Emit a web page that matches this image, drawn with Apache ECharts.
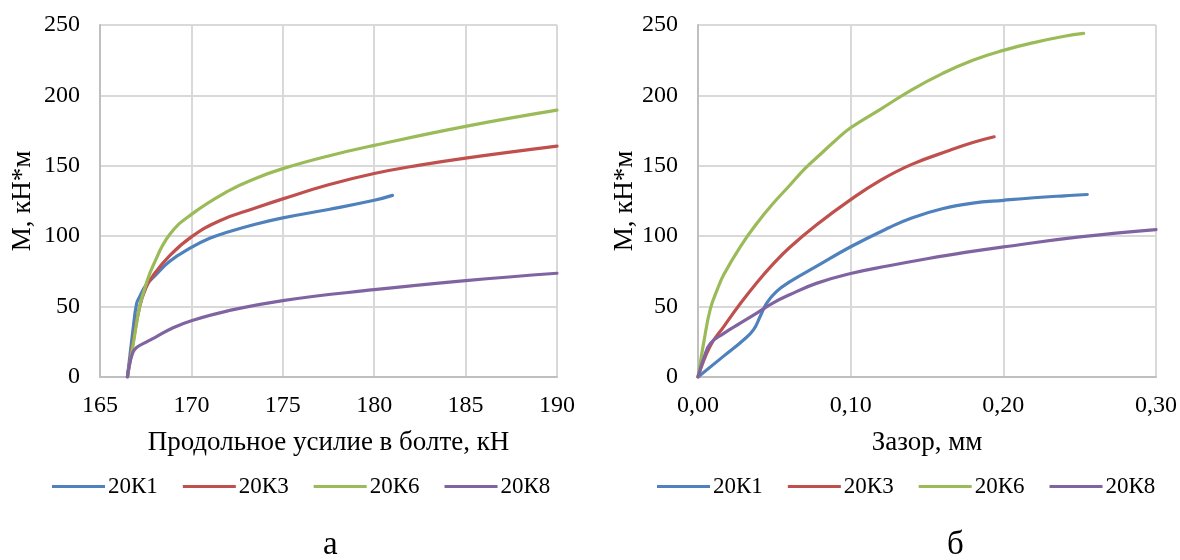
<!DOCTYPE html>
<html>
<head>
<meta charset="utf-8">
<script src="https://cdn.jsdelivr.net/npm/echarts@6/dist/echarts.min.js"></script>
<style>html,body{margin:0;padding:0;background:#fff;}#c{width:1180px;height:560px;}</style>
</head>
<body>
<div id="c"></div>
<script>
// Series names
const seriesNames = ['20К1', '20К3', '20К6', '20К8'];
const colors = ['#4F81BD', '#C0504D', '#9BBB59', '#8064A2'];

// Chart а: axial bolt force (kN) vs moment (kN*m)
const forceK1 = [[166.5,0],[166.8,33],[167.0,52],[167.17,57],[167.5,65],[167.9,70.5],[168.8,82],[170,92],[171,98.5],[172,103],[173.5,108.5],[175,113],[177.5,119],[180,125.5],[181,129]];
const forceK3 = [[166.5,0],[166.8,24],[167.17,50],[167.5,63],[167.9,72],[168.8,86],[170,99.5],[171.55,111],[173.5,120],[175,126.5],[177.5,136.5],[180,144.5],[182.5,150.5],[185,155.5],[190,164]];
const forceK6 = [[166.5,0],[166.8,22],[167.17,50],[167.5,65],[167.9,79],[168.8,101],[170,115.5],[172,132],[173.5,141],[175,148],[177.5,157],[180,164.5],[185,178],[190,189.5]];
const forceK8 = [[166.5,0],[166.6,8],[166.8,17.5],[167.0,21],[167.5,24.6],[168,28],[169,35],[170,40],[172,47],[175,54.3],[180,62],[185,68.5],[190,73.7]];

// Chart б: gap (mm) vs moment (kN*m)
const gapK1 = [[0,0],[0.017,15],[0.03,26.5],[0.0364,33.6],[0.0407,43],[0.045,52.5],[0.0515,60.8],[0.06,67.5],[0.0775,78.5],[0.1,92.5],[0.125,106],[0.14,113],[0.16,119.5],[0.18,123.5],[0.2,125.5],[0.22,127.3],[0.24,128.7],[0.255,129.6]];
const gapK3 = [[0,0],[0.008,22],[0.017,36],[0.028,52.5],[0.0385,67],[0.049,80],[0.06,92],[0.0775,108],[0.1,126],[0.12,140],[0.14,151],[0.165,161],[0.18,166.5],[0.194,170.6]];
const gapK6 = [[0,0],[0.004,26],[0.008,48],[0.0126,62],[0.017,73],[0.028,93],[0.0385,109],[0.049,123],[0.06,136],[0.07,148],[0.08,158],[0.09,168],[0.10,177],[0.12,190.5],[0.14,204],[0.16,215.5],[0.18,225],[0.20,232],[0.22,237.5],[0.24,242],[0.2526,244]];
const gapK8 = [[0,0],[0.004,14],[0.0082,24],[0.0169,31],[0.0277,38.3],[0.0385,45.4],[0.049,52.5],[0.06,58.4],[0.0775,66.5],[0.1,73.5],[0.125,79],[0.15,84],[0.175,88.5],[0.2,92.4],[0.25,99.5],[0.3,104.7]];

// Axis tick settings
const forceMin = 165, forceMax = 190, forceStep = 5;
const gapMin = 0, gapMax = 0.3, gapStep = 0.1;
const momentMin = 0, momentMax = 250, momentStep = 50;

const leftData = [forceK1, forceK3, forceK6, forceK8];
const rightData = [gapK1, gapK3, gapK6, gapK8];

const FONT = 'Liberation Serif';
const textColor = '#000';
const axisLineColor = '#BFBFBF';
const gridColor = '#D9D9D9';

function yAxis(gridIndex, gap) {
  return {
    type: 'value', gridIndex: gridIndex, min: momentMin, max: momentMax, interval: momentStep,
    name: 'М, кН*м', nameLocation: 'middle', nameGap: gap, nameRotate: 90,
    nameTextStyle: { fontFamily: FONT, fontSize: 27, color: textColor },
    axisLine: { show: true, lineStyle: { color: axisLineColor, width: 2 } },
    axisTick: { show: false },
    axisLabel: { fontFamily: FONT, fontSize: 24, color: textColor, margin: 20 },
    splitLine: { show: true, lineStyle: { color: gridColor, width: 2 } }
  };
}

function lineSeries(name, i, axisIdx, data) {
  return { name: name, type: 'line', xAxisIndex: axisIdx, yAxisIndex: axisIdx, data: data,
    smooth: 0.45, showSymbol: false, symbol: 'none',
    lineStyle: { width: 3.2, color: colors[i], cap: 'round', join: 'round' }, itemStyle: { color: colors[i] } };
}

const series = [];
seriesNames.forEach((n, i) => series.push(lineSeries(n, i, 0, leftData[i])));
seriesNames.forEach((n, i) => series.push(lineSeries(n, i, 1, rightData[i])));

const legendBase = {
  data: seriesNames, top: 475, padding: 0, itemWidth: 53, itemHeight: 3, itemGap: 25,
  icon: 'rect',
  textStyle: { fontFamily: FONT, fontSize: 23, color: textColor, padding: [0,0,0,-2] },
  selectedMode: false
};

const chart = echarts.init(document.getElementById('c'), null, { renderer: 'canvas' });
chart.setOption({
  backgroundColor: '#fff',
  animation: false,
  title: [
    { text: 'а', left: 318, top: 524, textStyle: { fontFamily: FONT, fontSize: 33, fontWeight: 'normal', color: textColor } },
    { text: 'б', left: 942, top: 524, textStyle: { fontFamily: FONT, fontSize: 33, fontWeight: 'normal', color: textColor } }
  ],
  legend: [
    Object.assign({}, legendBase, { left: 52 }),
    Object.assign({}, legendBase, { left: 657 })
  ],
  grid: [
    { left: 100, top: 25, width: 457, height: 352, containLabel: false },
    { left: 698, top: 25, width: 460, height: 352, containLabel: false }
  ],
  xAxis: [
    {
      type: 'value', gridIndex: 0, min: forceMin, max: forceMax, interval: forceStep,
      name: 'Продольное усилие в болте, кН', nameLocation: 'middle', nameGap: 52,
      nameTextStyle: { fontFamily: FONT, fontSize: 27, color: textColor },
      axisLine: { show: true, lineStyle: { color: axisLineColor, width: 2 } },
      axisTick: { show: false },
      axisLabel: { fontFamily: FONT, fontSize: 24, color: textColor, margin: 17 },
      splitLine: { show: true, lineStyle: { color: gridColor, width: 2 } }
    },
    {
      type: 'value', gridIndex: 1, min: gapMin, max: gapMax, interval: gapStep,
      name: 'Зазор, мм', nameLocation: 'middle', nameGap: 52,
      nameTextStyle: { fontFamily: FONT, fontSize: 27, color: textColor },
      axisLine: { show: true, lineStyle: { color: axisLineColor, width: 2 } },
      axisTick: { show: false },
      axisLabel: { fontFamily: FONT, fontSize: 24, color: textColor, margin: 17,
        formatter: v => v.toFixed(2).replace('.', ',') },
      splitLine: { show: true, lineStyle: { color: gridColor, width: 2 } }
    }
  ],
  yAxis: [yAxis(0, 64), yAxis(1, 60)],
  series: series
});
</script>
</body>
</html>
